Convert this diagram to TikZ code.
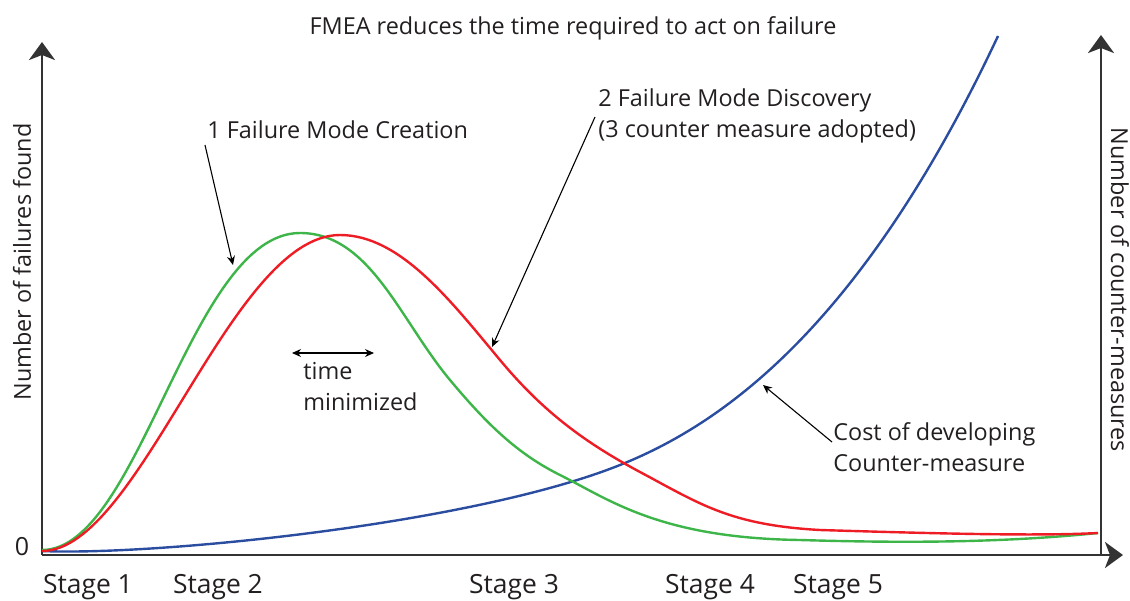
\documentclass[tikz,border=0pt]{standalone}
\usepackage{fontspec}
\setmainfont{Open Sans}
\usetikzlibrary{arrows.meta}
\definecolor{txt}{HTML}{231F20}
\definecolor{axisc}{HTML}{333333}
\definecolor{cgreen}{HTML}{3DB549}
\definecolor{cred}{HTML}{EE1D25}
\definecolor{cblue}{HTML}{2B4DA0}
\begin{document}
\begin{tikzpicture}[x=0.5pt,y=-0.5pt, font=\fontsize{11.7}{15.5}\selectfont, text=txt,
 axis/.style={line width=1.4pt, draw=axisc},
 bigtip/.style={-{Stealth[length=9pt,width=13pt,inset=2.5pt]}},
 curve/.style={line width=1.2pt},
 note/.style={draw=black, line width=0.55pt, -{Stealth[length=4.5pt,width=4pt]}},
 lbl/.style={inner sep=0pt, align=left},
 stage/.style={inner sep=0pt, anchor=base, font=\fontsize{13.2}{15}\selectfont},
]
\useasboundingbox (0,0) rectangle (1130,600);

% axes
\coordinate (o) at (42,555);
\coordinate (ytop) at (42,42);
\coordinate (xend) at (1123,555);
\coordinate (rbot) at (1101,555);
\coordinate (rtop) at (1101,35);
\draw[axis,bigtip] (o) -- (ytop);
\draw[axis,bigtip] (o) -- (xend);
\draw[axis,bigtip] (rbot) -- (rtop);

% curves
\draw[curve, draw=cblue] (42,551) .. controls (150,556) and (470,525) .. (620,465)
  .. controls (720,425) and (860,330) .. (998,36);
\draw[curve, draw=cgreen] (42,550) .. controls (140,550) and (190,233) .. (300,233)
  .. controls (370,233) and (400,320) .. (450,380)
  .. controls (490,428) and (520,455) .. (560,475)
  .. controls (610,500) and (660,538) .. (800,540)
  .. controls (900,543) and (1000,543) .. (1098,533);
\draw[curve, draw=cred] (42,551) .. controls (140,551) and (230,235) .. (340,235)
  .. controls (400,235) and (450,300) .. (500,360)
  .. controls (540,408) and (580,440) .. (640,472)
  .. controls (700,504) and (730,525) .. (820,530)
  .. controls (950,534) and (1040,536) .. (1098,533);

% texts
\node[lbl, anchor=base] (title) at (573,34) {FMEA reduces the time required to act on failure};
\node[lbl, anchor=base, font=\fontsize{12.5}{15}\selectfont] (zero) at (22,555) {0};
\node[stage] (s1) at (88,593) {Stage 1};
\node[stage] (s2) at (218,593) {Stage 2};
\node[stage] (s3) at (514,593) {Stage 3};
\node[stage] (s4) at (710,593) {Stage 4};
\node[stage] (s5) at (838,593) {Stage 5};
\node[lbl, rotate=90] (yl) at (22,262) {Number of failures found};
\node[lbl, rotate=-90] (yr) at (1120,290) {Number of counter-measures};

\node[lbl, anchor=base west] (c1) at (207,138) {1 Failure Mode Creation};
\node[lbl, anchor=west] (c2) at (598,116) {2 Failure Mode Discovery\\(3 counter measure adopted)};
\node[lbl, anchor=west] (tm) at (303,387) {time\\minimized};
\node[lbl, anchor=west] (cost) at (833,447) {Cost of developing\\Counter-measure};

% annotation arrows
\coordinate (a1s) at (205,145);
\coordinate (a1e) at (233,265);
\coordinate (a2s) at (595,117);
\coordinate (a2e) at (492,347);
\coordinate (a3s) at (832,442);
\coordinate (a3e) at (763,385);
\coordinate (tl) at (292,353);
\coordinate (tr) at (374,353);
\draw[note] (a1s) -- (a1e);
\draw[note] (a2s) -- (a2e);
\draw[note] (a3s) -- (a3e);
\draw[note, {Stealth[length=4.5pt,width=4pt]}-{Stealth[length=4.5pt,width=4pt]}] (tl) -- (tr);
\end{tikzpicture}
\end{document}
